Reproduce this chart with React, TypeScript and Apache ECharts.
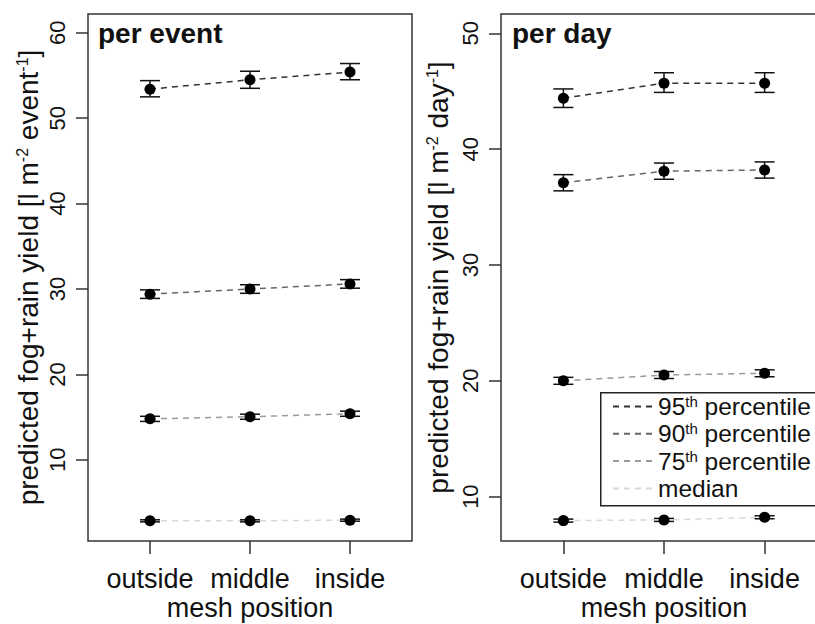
import React, { useEffect, useRef } from "react";
import * as echarts from "echarts";

const categories = ["outside", "middle", "inside"];
const xPositions = [1, 2, 3];
const seriesNames = ["95th percentile", "90th percentile", "75th percentile", "median"];

// per event
const eventMean95 = [53.4, 54.5, 55.4];
const eventLow95 = [52.5, 53.5, 54.5];
const eventHigh95 = [54.4, 55.5, 56.4];
const eventMean90 = [29.4, 30.0, 30.6];
const eventLow90 = [28.9, 29.5, 30.1];
const eventHigh90 = [29.9, 30.5, 31.1];
const eventMean75 = [14.8, 15.05, 15.4];
const eventLow75 = [14.5, 14.75, 15.1];
const eventHigh75 = [15.1, 15.35, 15.7];
const eventMeanMed = [2.86, 2.86, 2.94];
const eventLowMed = [2.74, 2.74, 2.82];
const eventHighMed = [2.98, 2.98, 3.06];

// per day
const dayMean95 = [44.4, 45.7, 45.7];
const dayLow95 = [43.6, 44.9, 44.9];
const dayHigh95 = [45.2, 46.6, 46.6];
const dayMean90 = [37.1, 38.1, 38.2];
const dayLow90 = [36.4, 37.4, 37.5];
const dayHigh90 = [37.8, 38.8, 38.9];
const dayMean75 = [20.0, 20.5, 20.65];
const dayLow75 = [19.7, 20.2, 20.35];
const dayHigh75 = [20.3, 20.8, 20.95];
const dayMeanMed = [7.93, 7.99, 8.22];
const dayLowMed = [7.8, 7.86, 8.09];
const dayHighMed = [8.06, 8.12, 8.35];

const eventTicks = [10, 20, 30, 40, 50, 60];
const dayTicks = [10, 20, 30, 40, 50];

const lineColors = ["#333333", "#666666", "#9a9a9a", "#d8d8d8"];
const FONT = "Liberation Sans, Arial, Helvetica, sans-serif";

const eventMeans = [eventMean95, eventMean90, eventMean75, eventMeanMed];
const eventLows = [eventLow95, eventLow90, eventLow75, eventLowMed];
const eventHighs = [eventHigh95, eventHigh90, eventHigh75, eventHighMed];
const dayMeans = [dayMean95, dayMean90, dayMean75, dayMeanMed];
const dayLows = [dayLow95, dayLow90, dayLow75, dayLowMed];
const dayHighs = [dayHigh95, dayHigh90, dayHigh75, dayHighMed];

function errorRender(params: any, api: any) {
  const x = api.value(0);
  const lo = api.value(1);
  const hi = api.value(2);
  const a = api.coord([x, lo]);
  const b = api.coord([x, hi]);
  const style = { stroke: "#111", lineWidth: 1.5 };
  return {
    type: "group",
    children: [
      { type: "line", shape: { x1: a[0], y1: a[1], x2: b[0], y2: b[1] }, style },
      { type: "line", shape: { x1: a[0] - 10, y1: a[1], x2: a[0] + 10, y2: a[1] }, style },
      { type: "line", shape: { x1: b[0] - 10, y1: b[1], x2: b[0] + 10, y2: b[1] }, style },
    ],
  };
}

function panelSeries(means: number[][], lows: number[][], highs: number[][], idx: number) {
  const out: any[] = [];
  means.forEach((m, k) => {
    out.push({
      name: seriesNames[k],
      type: "line",
      xAxisIndex: idx,
      yAxisIndex: idx,
      data: xPositions.map((x, i) => [x, m[i]]),
      symbol: "none",
      lineStyle: { color: lineColors[k], width: 1.5, type: [6, 5] },
      itemStyle: { color: lineColors[k], opacity: 0 },
      z: 2,
    });
    out.push({
      type: "custom",
      xAxisIndex: idx,
      yAxisIndex: idx,
      renderItem: errorRender,
      encode: { x: 0, y: [1, 2] },
      data: xPositions.map((x, i) => [x, lows[k][i], highs[k][i]]),
      z: 3,
    });
    out.push({
      type: "scatter",
      xAxisIndex: idx,
      yAxisIndex: idx,
      data: xPositions.map((x, i) => [x, m[i]]),
      symbol: "circle",
      symbolSize: 11,
      itemStyle: { color: "#000", opacity: 1 },
      z: 4,
    });
  });
  return out;
}

const richSup = {
  n: { fontSize: 28, fontFamily: FONT, color: "#111" },
  s: { fontSize: 16, fontFamily: FONT, color: "#111", verticalAlign: "top" as const },
};

function xAxisCfg(idx: number) {
  return {
    type: "value",
    gridIndex: idx,
    min: 0.38,
    max: 3.62,
    name: "mesh position",
    nameLocation: "middle",
    nameGap: 53,
    nameMoveOverlap: false,
    nameTextStyle: { fontSize: 27, lineHeight: 27, fontFamily: FONT, color: "#111" },
    axisLine: { show: false },
    splitLine: { show: false },
    axisTick: {
      show: true,
      inside: false,
      length: 13,
      customValues: xPositions,
      lineStyle: { color: "#333", width: 1.5 },
    },
    axisLabel: {
      customValues: xPositions,
      margin: 24,
      fontSize: 27,
      lineHeight: 27,
      fontFamily: FONT,
      color: "#111",
      formatter: (v: number) => categories[Math.round(v) - 1] ?? "",
    },
  };
}

function yAxisCfg(idx: number, min: number, max: number, ticks: number[], unit: string, gap: number) {
  return {
    type: "value",
    gridIndex: idx,
    min,
    max,
    name: `{n|predicted fog+rain yield [l m}{s|-2}{n| ${unit}}{s|-1}{n|]}`,
    nameLocation: "middle",
    nameRotate: 90,
    nameGap: gap,
    nameMoveOverlap: false,
    nameTextStyle: { rich: richSup, fontSize: 28, fontFamily: FONT, color: "#111" },
    axisLine: { show: false },
    splitLine: { show: false },
    axisTick: {
      show: true,
      inside: false,
      length: 12,
      customValues: ticks,
      lineStyle: { color: "#333", width: 1.5 },
    },
    axisLabel: {
      customValues: ticks,
      rotate: 90,
      margin: 20,
      fontSize: 22,
      fontFamily: FONT,
      color: "#111",
    },
  };
}

export default function App() {
  const ref = useRef<HTMLDivElement>(null);
  useEffect(() => {
    if (!ref.current) return;
    const chart = echarts.init(ref.current, null, { renderer: "svg" });
    const option: any = {
      animation: false,
      backgroundColor: "#ffffff",
      title: [
        {
          text: "per event",
          left: 98,
          top: 19,
          padding: 0,
          textStyle: { fontSize: 28, fontWeight: "bold", fontFamily: FONT, color: "#111" },
        },
        {
          text: "per day",
          left: 512,
          top: 19,
          padding: 0,
          textStyle: { fontSize: 28, fontWeight: "bold", fontFamily: FONT, color: "#111" },
        },
      ],
      graphic: [
        {
          type: "rect",
          left: 600,
          top: 392,
          shape: { x: 0, y: 0, width: 260, height: 113 },
          style: { fill: "#fff", stroke: "#222", lineWidth: 1.5 },
          z: 5,
        },
      ],
      legend: {
        orient: "vertical",
        left: 600,
        top: 392,
        z: 6,
        data: seriesNames,
        itemWidth: 40,
        itemHeight: 14,
        itemGap: 2.3,
        padding: [2, 4, 2, 12],
        selectedMode: false,
        itemStyle: { opacity: 0 },
        formatter: (name: string) => {
          const m = name.match(/^(\d+)(th)(.*)$/);
          if (m) return `{n|${m[1]}}{s|${m[2]}}{n|${m[3]}}`;
          return `{n|${name}}`;
        },
        textStyle: {
          fontFamily: FONT,
          fontSize: 24.5,
          color: "#111",
          rich: {
            n: { fontSize: 24.5, fontFamily: FONT, color: "#111", lineHeight: 25 },
            s: { fontSize: 15, fontFamily: FONT, color: "#111", verticalAlign: "top", lineHeight: 15 },
          },
        },
      },
      grid: [
        { left: 88, top: 14, width: 324, height: 527, show: true, borderColor: "#333", borderWidth: 1.5, backgroundColor: "transparent", outerBoundsMode: "none", containLabel: false },
        { left: 501, top: 14, width: 326, height: 527, show: true, borderColor: "#333", borderWidth: 1.5, backgroundColor: "transparent", outerBoundsMode: "none", containLabel: false },
      ],
      xAxis: [xAxisCfg(0), xAxisCfg(1)],
      yAxis: [
        yAxisCfg(0, 0.5, 62.2, eventTicks, "event", 46),
        yAxisCfg(1, 6.17, 51.67, dayTicks, "day", 49),
      ],
      series: [
        ...panelSeries(eventMeans, eventLows, eventHighs, 0),
        ...panelSeries(dayMeans, dayLows, dayHighs, 1),
      ],
    };
    chart.setOption(option);
    return () => chart.dispose();
  }, []);
  return (
    <div
      ref={ref}
      style={{ position: "absolute", left: 0, top: 0, width: 815, height: 624 }}
    />
  );
}
